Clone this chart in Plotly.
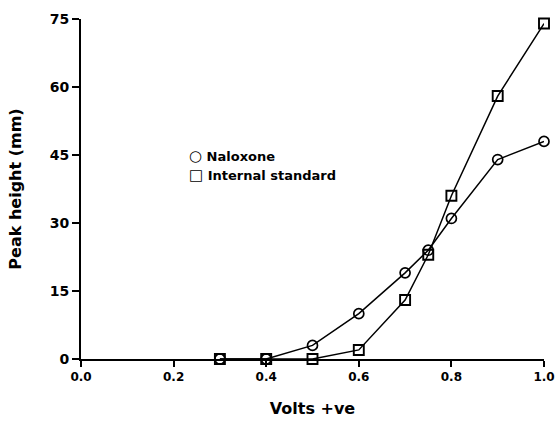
import plotly.graph_objects as go

volts = [0.3, 0.4, 0.5, 0.6, 0.7, 0.75, 0.8, 0.9, 1.0]
naloxone = [0, 0, 3, 10, 19, 24, 31, 44, 48]
internal_standard = [0, 0, 0, 2, 13, 23, 36, 58, 74]

x_ticks = [0.0, 0.2, 0.4, 0.6, 0.8, 1.0]
x_tick_labels = ["0.0", "0.2", "0.4", "0.6", "0.8", "1.0"]
y_ticks = [0, 15, 30, 45, 60, 75]
series_names = ["Naloxone", "Internal standard"]

FONT = "DejaVu Sans, Liberation Sans, Arial, sans-serif"

fig = go.Figure()
fig.add_trace(go.Scatter(
    x=volts, y=naloxone, mode="lines+markers", name=series_names[0], showlegend=False,
    line=dict(color="black", width=1.5),
    marker=dict(symbol="circle-open", size=10, color="black", line=dict(width=1.7)),
))
fig.add_trace(go.Scatter(
    x=volts, y=internal_standard, mode="lines+markers", name=series_names[1], showlegend=False,
    line=dict(color="black", width=1.5),
    marker=dict(symbol="square-open", size=10, color="black", line=dict(width=1.9)),
))

# Legend drawn as text annotations (tight symbol-text spacing like the original)
legend_symbols = ["○", "□"]
for i, (sym, name) in enumerate(zip(legend_symbols, series_names)):
    fig.add_annotation(
        xref="paper", yref="paper", x=0.228, y=0.598 - i * 0.056,
        xanchor="left", yanchor="middle", showarrow=False,
        text=f"<b><span style='font-size:15px'>{sym}</span> {name}</b>",
        font=dict(size=13, family=FONT, color="black"),
    )

fig.update_layout(
    width=555, height=426,
    margin=dict(l=81, r=11, t=19, b=67),
    paper_bgcolor="white", plot_bgcolor="white",
    font=dict(family=FONT, color="black"),
    showlegend=False,
    xaxis=dict(
        range=[0, 1.0], tickvals=x_ticks, ticktext=[f"<b>{t}</b>" for t in x_tick_labels],
        showgrid=False, zeroline=False, showline=True, linecolor="black", linewidth=2,
        ticks="outside", ticklen=6, tickwidth=1.5, tickcolor="black",
        tickfont=dict(size=12, family=FONT), automargin=False, ticklabeloverflow="allow",
        title=dict(text="<b>Volts +ve</b>", font=dict(size=16, family=FONT), standoff=19),
    ),
    yaxis=dict(
        range=[0, 75], tickvals=y_ticks, ticktext=[f"<b>{t}</b>" for t in y_ticks],
        showgrid=False, zeroline=False, showline=True, linecolor="black", linewidth=2,
        ticks="outside", ticklen=7, tickwidth=1.5, tickcolor="black",
        tickfont=dict(size=14, family=FONT), automargin=False, ticklabeloverflow="allow",
        title=dict(text="<b>Peak height (mm)</b>", font=dict(size=16, family=FONT), standoff=24),
    ),
)
fig.update_traces(cliponaxis=False)

# remove the default 8px page margin so the figure fills the window exactly
fig.write_html("out.html", config={"displayModeBar": False},
               post_script="document.body.style.margin='0';")
